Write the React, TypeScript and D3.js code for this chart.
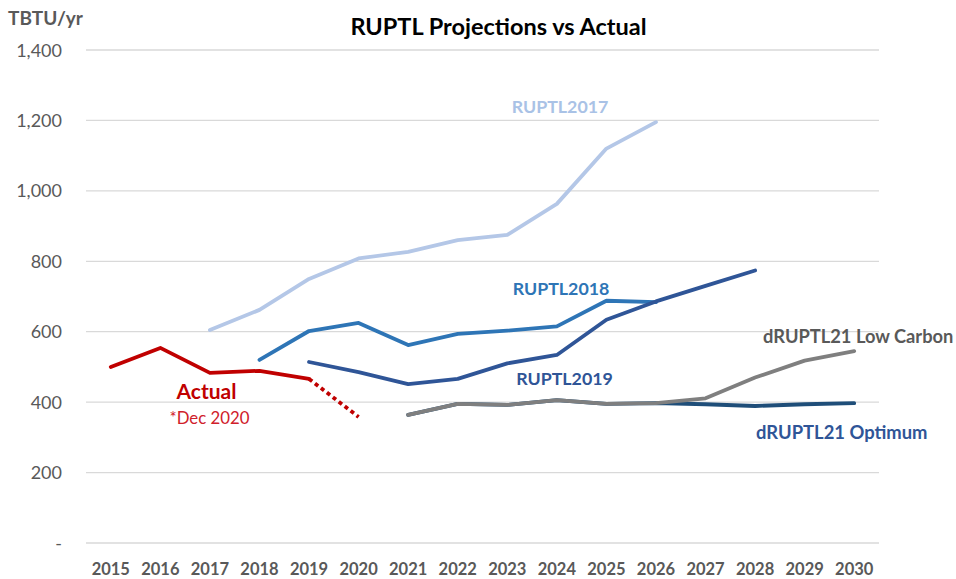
import React from 'react';
import * as d3 from 'd3';

// categories
const years = ['2015', '2016', '2017', '2018', '2019', '2020', '2021', '2022', '2023', '2024', '2025', '2026', '2027', '2028', '2029', '2030'];
const yTicks = [0, 200, 400, 600, 800, 1000, 1200, 1400];

// series values (null = no data)
const actual = [500, 554, 483, 489, 466, null, null, null, null, null, null, null, null, null, null, null];
const actualEstimate = [null, null, null, null, 466, 358, null, null, null, null, null, null, null, null, null, null];
const ruptl2017 = [null, null, 605, 662, 750, 808, 827, 860, 875, 963, 1120, 1195, null, null, null, null];
const ruptl2018 = [null, null, null, 520, 602, 625, 562, 594, 603, 615, 688, 684, null, null, null, null];
const ruptl2019 = [null, null, null, null, 514, 485, 451, 466, 510, 534, 634, 686, 730, 774, null, null];
const optimum = [null, null, null, null, null, null, 364, 395, 392, 406, 395, 397, 394, 389, 394, 397];
const lowCarbon = [null, null, null, null, null, null, 364, 395, 392, 406, 395, 397, 411, 470, 518, 545];

type S = (number | null)[];

const FONT = 'Lato, "Open Sans", sans-serif';

export default function App() {
  const width = 956;
  const height = 579;
  const margin = { top: 50, right: 77, bottom: 36, left: 86 };

  const x = d3.scaleBand<string>()
    .domain(years)
    .range([margin.left, width - margin.right])
    .paddingInner(0)
    .paddingOuter(0);
  const cx = (i: number) => (x(years[i]) as number) + x.bandwidth() / 2;

  const y = d3.scaleLinear()
    .domain([0, 1400])
    .range([height - margin.bottom, margin.top]);

  const line = d3.line<number | null>()
    .defined(d => d != null)
    .x((_, i) => cx(i))
    .y(d => y(d as number));

  const series: { data: S; color: string; dash?: string }[] = [
    { data: ruptl2017, color: '#b4c7e7' },
    { data: ruptl2018, color: '#2e75b6' },
    { data: ruptl2019, color: '#2f5597' },
    { data: optimum, color: '#1f4e79' },
    { data: lowCarbon, color: '#7f7f7f' },
    { data: actual, color: '#c00000' },
    { data: actualEstimate, color: '#c00000', dash: '4 3.5' },
  ];

  return (
    <svg width={width} height={height} style={{ position: 'absolute', left: 0, top: 0, background: '#fff' }}>
      <rect x={0} y={0} width={width} height={height} fill="#fff" />
      {/* gridlines */}
      {yTicks.map(t => (
        <line key={t} x1={margin.left} x2={width - margin.right} y1={y(t)} y2={y(t)} stroke="#d9d9d9" strokeWidth={1.3} />
      ))}
      {/* y tick labels */}
      {yTicks.map(t => (
        <text key={'l' + t} x={62} y={y(t) + 6.5} textAnchor="end" fontFamily={FONT} fontSize={18} fill="#595959">
          {t === 0 ? '-' : d3.format(',')(t)}
        </text>
      ))}
      {/* x tick labels */}
      {years.map((yr, i) => (
        <text key={yr} x={cx(i)} y={575} textAnchor="middle" fontFamily={FONT} fontSize={16.5} fontWeight="bold" fill="#595959">
          {yr}
        </text>
      ))}
      {/* lines */}
      {series.map((s, i) => (
        <path key={i} d={line(s.data) || ''} fill="none" stroke={s.color} strokeWidth={3.8}
          strokeLinejoin="round" strokeLinecap={s.dash ? 'butt' : 'round'} strokeDasharray={s.dash} />
      ))}
      {/* title and axis label */}
      <text x={498.5} y={35} textAnchor="middle" fontFamily={FONT} fontSize={23.5} fontWeight="bold" fill="#000">
        RUPTL Projections vs Actual
      </text>
      <text x={8} y={25} fontFamily={FONT} fontSize={19} fontWeight="bold" fill="#595959">TBTU/yr</text>
      {/* series labels */}
      <text x={560} y={113} textAnchor="middle" fontFamily={FONT} fontSize={17.8} fontWeight="bold" fill="#a9c2e6">RUPTL2017</text>
      <text x={561} y={295} textAnchor="middle" fontFamily={FONT} fontSize={17.8} fontWeight="bold" fill="#2e75b6">RUPTL2018</text>
      <text x={564.5} y={385} textAnchor="middle" fontFamily={FONT} fontSize={17.8} fontWeight="bold" fill="#2f5597">RUPTL2019</text>
      <text x={763} y={343} fontFamily={FONT} fontSize={18.3} fontWeight="bold" fill="#595959">dRUPTL21 Low Carbon</text>
      <text x={756} y={439} fontFamily={FONT} fontSize={18.4} fontWeight="bold" fill="#2f5597">dRUPTL21 Optimum</text>
      <text x={206.5} y={399} textAnchor="middle" fontFamily={FONT} fontSize={21} fontWeight="bold" fill="#c00000">Actual</text>
      <text x={209.5} y={424} textAnchor="middle" fontFamily={FONT} fontSize={16.8} fill="#d0202a">*Dec 2020</text>
    </svg>
  );
}
